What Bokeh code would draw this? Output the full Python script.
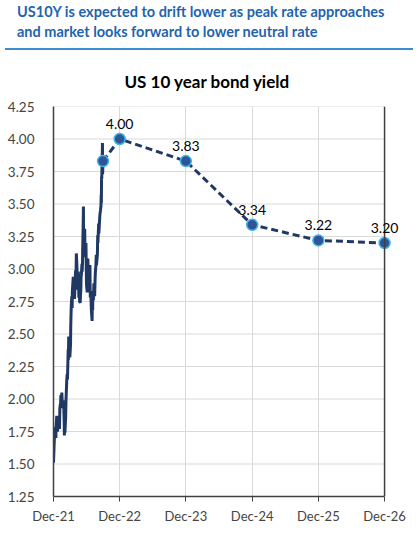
import pandas as pd
from bokeh.plotting import figure
from bokeh.models import (Range1d, FixedTicker, DatetimeTickFormatter, NumeralTickFormatter,
                          ColumnDataSource, LabelSet, Div, Span)
from bokeh.core.properties import value
from bokeh.layouts import column
from bokeh.embed import file_html
from bokeh.resources import INLINE

HEADER = "US10Y is expected to drift lower as peak rate approaches and market looks forward to lower neutral rate"
TITLE = "US 10 year bond yield"

hist_dates = [
    "2021-12-31", "2022-01-03", "2022-01-05", "2022-01-07", "2022-01-10", "2022-01-11", "2022-01-13",
    "2022-01-14", "2022-01-18", "2022-01-19", "2022-01-21", "2022-01-24", "2022-01-26", "2022-01-28",
    "2022-02-01", "2022-02-02", "2022-02-04", "2022-02-08", "2022-02-10", "2022-02-11", "2022-02-15",
    "2022-02-17", "2022-02-18", "2022-02-23", "2022-02-25", "2022-02-28", "2022-03-01", "2022-03-02",
    "2022-03-04", "2022-03-08", "2022-03-10", "2022-03-14", "2022-03-16", "2022-03-18", "2022-03-21",
    "2022-03-22", "2022-03-23", "2022-03-25", "2022-03-29", "2022-03-31", "2022-04-04", "2022-04-05",
    "2022-04-06", "2022-04-08", "2022-04-11", "2022-04-13", "2022-04-14", "2022-04-19", "2022-04-20",
    "2022-04-21", "2022-04-26", "2022-04-29", "2022-05-02", "2022-05-04", "2022-05-06", "2022-05-09",
    "2022-05-11", "2022-05-12", "2022-05-13", "2022-05-17", "2022-05-19", "2022-05-20", "2022-05-23",
    "2022-05-24", "2022-05-27", "2022-05-31", "2022-06-01", "2022-06-03", "2022-06-06", "2022-06-07",
    "2022-06-09", "2022-06-10", "2022-06-13", "2022-06-14", "2022-06-15", "2022-06-16", "2022-06-17",
    "2022-06-21", "2022-06-23", "2022-06-24", "2022-06-28", "2022-06-30", "2022-07-01", "2022-07-05",
    "2022-07-06", "2022-07-08", "2022-07-12", "2022-07-13", "2022-07-15", "2022-07-20", "2022-07-21",
    "2022-07-22", "2022-07-25", "2022-07-28", "2022-08-01", "2022-08-02", "2022-08-04", "2022-08-05",
    "2022-08-08", "2022-08-11", "2022-08-12", "2022-08-15", "2022-08-17", "2022-08-19", "2022-08-22",
    "2022-08-24", "2022-08-25", "2022-08-30", "2022-08-31", "2022-09-01", "2022-09-02", "2022-09-06",
    "2022-09-07", "2022-09-09", "2022-09-13", "2022-09-16", "2022-09-19", "2022-09-20", "2022-09-21",
    "2022-09-22", "2022-09-23", "2022-09-26", "2022-09-27", "2022-09-28", "2022-09-30",
]
hist_yield = [
    1.51, 1.63, 1.70, 1.76, 1.78, 1.74, 1.70,
    1.78, 1.87, 1.83, 1.75, 1.77, 1.85, 1.78,
    1.81, 1.77, 1.93, 1.97, 2.03, 1.94, 2.05,
    1.97, 1.93, 1.99, 1.97, 1.83, 1.72, 1.86,
    1.74, 1.86, 1.99, 2.14, 2.19, 2.15, 2.32,
    2.38, 2.30, 2.48, 2.40, 2.32, 2.42, 2.55,
    2.61, 2.72, 2.79, 2.70, 2.83, 2.94, 2.84,
    2.91, 2.77, 2.89, 2.99, 2.93, 3.12, 3.03,
    2.91, 2.84, 2.92, 2.98, 2.84, 2.78, 2.86,
    2.75, 2.74, 2.85, 2.94, 2.96, 3.04, 2.98,
    3.04, 3.15, 3.37, 3.48, 3.29, 3.19, 3.23,
    3.31, 3.09, 3.13, 3.20, 2.98, 2.88, 2.82,
    2.93, 3.08, 2.96, 2.91, 2.93, 3.03, 2.87,
    2.78, 2.81, 2.68, 2.60, 2.74, 2.68, 2.83,
    2.76, 2.89, 2.84, 2.79, 2.90, 2.98, 3.03,
    3.11, 3.03, 3.11, 3.19, 3.26, 3.20, 3.35,
    3.27, 3.32, 3.42, 3.45, 3.49, 3.57, 3.51,
    3.71, 3.69, 3.88, 3.97, 3.73, 3.83,
]

fcst_dates = ["2022-09-30", "2022-12-31", "2023-12-31", "2024-12-31", "2025-12-31", "2026-12-31"]
fcst_yield = [3.83, 4.00, 3.83, 3.34, 3.22, 3.20]
fcst_labels = ["", "4.00", "3.83", "3.34", "3.22", "3.20"]

tick_dates = ["2021-12-31", "2022-12-31", "2023-12-31", "2024-12-31", "2025-12-31", "2026-12-31"]
y_ticks = [1.25, 1.50, 1.75, 2.00, 2.25, 2.50, 2.75, 3.00, 3.25, 3.50, 3.75, 4.00, 4.25]

FONT = "Lato"
NAVY = "#203864"
GRID = "#D9D9D9"
AXIS = "#404040"

header = Div(
    text=HEADER,
    width=419, height=50, margin=(0, 0, 0, 0),
    styles={
        "font-family": "Lato, sans-serif", "font-weight": "bold", "font-size": "14.5px",
        "color": "#1F64AE", "line-height": "20px", "box-sizing": "border-box",
        "padding": "2px 2px 0px 12px", "margin-left": "5px",
        "width": "408px", "height": "50px",
        "border-bottom": "2px solid #3C8DD0",
    },
)

t0 = pd.Timestamp(tick_dates[0])
t1 = pd.Timestamp(tick_dates[-1])
hist = ColumnDataSource(dict(x=pd.to_datetime(hist_dates), y=hist_yield))
fc = ColumnDataSource(dict(x=pd.to_datetime(fcst_dates), y=fcst_yield, lab=fcst_labels))
grid_src = ColumnDataSource(dict(x0=[t0] * len(y_ticks), x1=[t1] * len(y_ticks), y=y_ticks))

p = figure(width=419, height=484, output_backend="svg", toolbar_location=None,
           x_axis_type="datetime",
           x_range=Range1d(t0, pd.Timestamp("2027-04-20")),
           y_range=Range1d(1.25, 4.25),
           min_border_left=53, min_border_right=15, min_border_top=56, min_border_bottom=38)

p.title.text = TITLE
p.title.align = "left"
p.title.offset = 71
p.title.text_font = FONT
p.title.text_font_size = "17px"
p.title.text_font_style = "bold"
p.title.text_color = "#000000"
p.title.standoff = 30

# horizontal grid lines bounded to the axis extent
p.segment("x0", "y", "x1", "y", source=grid_src, line_color=GRID, line_width=1)
p.add_layout(Span(location=t1.value / 1e6, dimension="height", line_color=AXIS, line_width=1.5))

p.line("x", "y", source=hist, line_color=NAVY, line_width=3)
p.line("x", "y", source=fc, line_color=NAVY, line_width=3, line_dash="7 4")
p.scatter("x", "y", source=fc, size=11, fill_color="#2F5597", line_color="#3DB8EA", line_width=1.5)
p.add_layout(LabelSet(x="x", y="y", text="lab", source=fc, text_align="center",
                      text_baseline="bottom", y_offset=10, text_font_size="14px",
                      text_font=value(FONT), text_color="#000000"))

xa = p.xaxis[0]
xa.ticker = FixedTicker(ticks=[pd.Timestamp(d).value / 1e6 for d in tick_dates])
xa.bounds = (t0.value / 1e6, t1.value / 1e6)
fmt = "%b-%y"
xa.formatter = DatetimeTickFormatter(years=fmt, months=fmt, days=fmt, hours=fmt, minutes=fmt,
                                     seconds=fmt, milliseconds=fmt, microseconds=fmt)
xa.axis_line_color = AXIS
xa.axis_line_width = 1.5
xa.major_tick_line_color = AXIS
xa.major_tick_in = 0
xa.major_tick_out = 5
xa.minor_tick_line_color = None
xa.major_label_text_font = FONT
xa.major_label_text_font_size = "13px"
xa.major_label_standoff = 6

ya = p.yaxis[0]
ya.ticker = FixedTicker(ticks=y_ticks)
ya.formatter = NumeralTickFormatter(format="0.00")
ya.axis_line_color = AXIS
ya.axis_line_width = 1.5
ya.major_tick_line_color = None
ya.minor_tick_line_color = None
ya.major_label_text_font = FONT
ya.major_label_text_font_size = "13.5px"
ya.major_label_standoff = 13

p.xgrid.ticker = xa.ticker
p.xgrid.grid_line_color = GRID
p.ygrid.grid_line_color = None
p.outline_line_color = None
p.background_fill_color = "white"
p.border_fill_color = "white"

layout = column(header, p, spacing=0)
open("out.html", "w").write(file_html(layout, INLINE))
